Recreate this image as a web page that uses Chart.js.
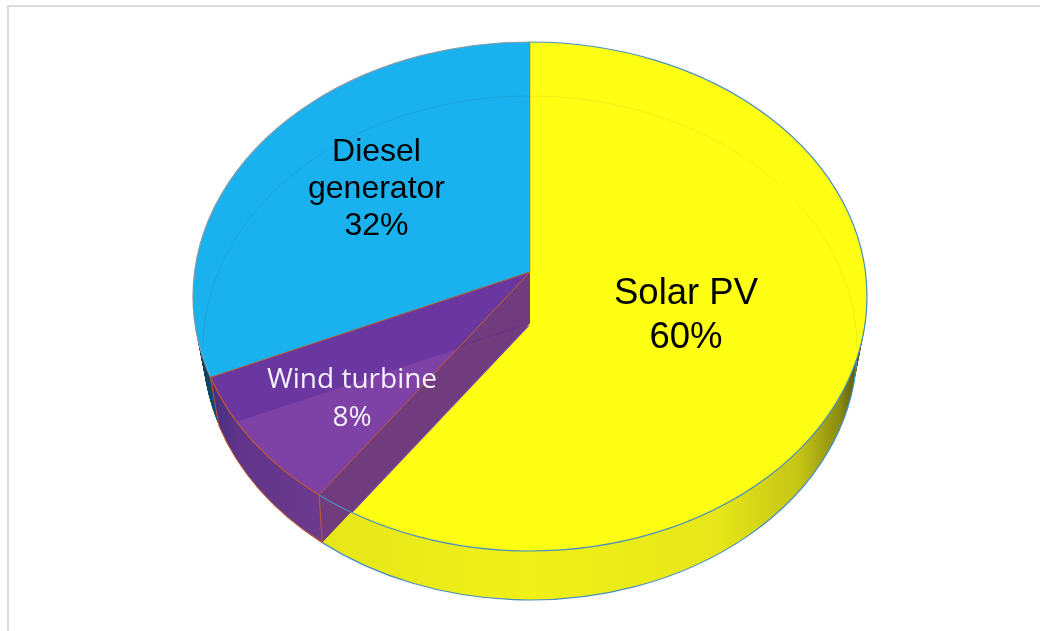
<!DOCTYPE html>
<html>
<head>
<meta charset="utf-8">
<style>
  html, body { margin: 0; background: #fff; overflow: hidden; }
  #frame { position: absolute; left: 7px; top: 5px; right: 0; bottom: 0; border-top: 2px solid #dcdcdc; border-left: 2px solid #dcdcdc; }
  canvas { position: absolute; left: 0; top: 0; filter: blur(0.4px); }
</style>
</head>
<body>
<div id="frame"></div>
<canvas id="pie" width="1040" height="631"></canvas>
<script src="https://cdn.jsdelivr.net/npm/chart.js@4"></script>
<script>
// Energy mix, clockwise from 12 o'clock
const sources = ['Solar PV', 'Wind turbine', 'Diesel generator'];
const shares  = [60, 8, 32];
const labelLines = [['Solar PV'], ['Wind turbine'], ['Diesel', 'generator']];

const faceColors = ['#ffff14', '#6a37a0', '#1ab2ee'];
const WIND_LIGHT = '#7e41a6';
const WIND_BAND  = '#703c7e';
const rimColors  = ['#4a8fc0', '#c0592c', '#8a9aa5'];

// wall shading left -> right, [x, colour]
const wallStops = [
  [[326, '#e6e61a'], [530, '#f1f118'], [720, '#e6e61a'], [800, '#c4c416'], [840, '#8a8a10'], [860, '#4f4f08']],
  [[212, '#472d82'], [238, '#5f358a'], [326, '#6e3a8e']],
  [[198, '#0c3c58'], [220, '#14506e']],
];

// fake 3D: top face and base are two ellipses, the wedges fan out from an apex
const TOP  = { cx: 530, cy: 296.5, rx: 337, ry: 254.5, ax: 530, ay: 272 };
const BASE = { cx: 530, cy: 348,   rx: 327, ry: 252,   ax: 530, ay: 323 };
const SHEAR = 0.048, SQUASH = 0.803;
const WALL_STEPS = 60;

const layer = t => {
  const o = {};
  for (const k in TOP) o[k] = TOP[k] + (BASE[k] - TOP[k]) * t;
  return o;
};

// where the ray of a chart angle leaves the ellipse of a layer
function rimPoint(l, angle) {
  const d0 = Math.cos(angle), d1 = SHEAR * d0 + SQUASH * Math.sin(angle);
  const dx = l.ax - l.cx, dy = l.ay - l.cy;
  const a = d0 * d0 / (l.rx * l.rx) + d1 * d1 / (l.ry * l.ry);
  const b = 2 * (dx * d0 / (l.rx * l.rx) + dy * d1 / (l.ry * l.ry));
  const c = dx * dx / (l.rx * l.rx) + dy * dy / (l.ry * l.ry) - 1;
  const s = (-b + Math.sqrt(b * b - 4 * a * c)) / (2 * a);
  const x = l.ax + s * d0, y = l.ay + s * d1;
  return { x, y, param: Math.atan2((y - l.cy) / l.ry, (x - l.cx) / l.rx) };
}

function drawWedge(ctx, arc, l, fill, clipTo) {
  const saved = arc.options;
  const opts = Object.create(saved);
  opts.backgroundColor = fill;
  opts.borderWidth = 0;
  arc.options = opts;
  ctx.save();
  ctx.beginPath();
  ctx.ellipse(clipTo.cx, clipTo.cy, clipTo.rx, clipTo.ry, 0, 0, Math.PI * 2);
  ctx.clip();
  ctx.transform(1, SHEAR, 0, SQUASH, l.ax, l.ay);
  ctx.translate(-arc.x, -arc.y);
  arc.draw(ctx);
  ctx.restore();
  arc.options = saved;
}

function strokeRim(ctx, l, from, to, color, width) {
  ctx.beginPath();
  ctx.ellipse(l.cx, l.cy, l.rx, l.ry, 0, from, to);
  ctx.strokeStyle = color;
  ctx.lineWidth = width;
  ctx.stroke();
}

function strokeLine(ctx, a, b, color) {
  ctx.beginPath();
  ctx.moveTo(a.x, a.y);
  ctx.lineTo(b.x, b.y);
  ctx.strokeStyle = color;
  ctx.lineWidth = 1;
  ctx.stroke();
}

const pie3d = {
  id: 'pie3d',
  beforeDatasetsDraw(chart) {
    const ctx = chart.ctx;
    const arcs = chart.getDatasetMeta(0).data;
    const [solar, wind, diesel] = arcs;
    const base = layer(1);

    const wallFills = wallStops.map(stops => {
      const x0 = stops[0][0], x1 = stops[stops.length - 1][0];
      const g = ctx.createLinearGradient(x0, 0, x1, 0);
      stops.forEach(s => g.addColorStop((s[0] - x0) / (x1 - x0), s[1]));
      return g;
    });

    // side wall, painted from the base upwards
    for (let i = WALL_STEPS; i > 0; i--) {
      const l = layer(i / WALL_STEPS);
      arcs.forEach((arc, j) => drawWedge(ctx, arc, l, wallFills[j], l));
    }

    // top faces; the lighter part of wind is where its floor shows through
    drawWedge(ctx, solar, TOP, faceColors[0], TOP);
    drawWedge(ctx, diesel, TOP, faceColors[2], TOP);
    drawWedge(ctx, wind, TOP, faceColors[1], TOP);
    drawWedge(ctx, wind, { ...base, ay: base.ay + 2 }, WIND_LIGHT, TOP);

    // wall between wind and solar seen through the glass
    const topA = { x: TOP.ax, y: TOP.ay }, baseA = { x: BASE.ax, y: BASE.ay };
    const topRim = rimPoint(TOP, wind.startAngle);
    const baseRim = rimPoint(BASE, wind.startAngle);
    const windEndTop = rimPoint(TOP, wind.endAngle), windEndBase = rimPoint(BASE, wind.endAngle);
    ctx.save();
    ctx.beginPath();
    ctx.moveTo(topA.x, topA.y);
    ctx.lineTo(topRim.x, topRim.y);
    ctx.lineTo(baseRim.x, baseRim.y);
    ctx.lineTo(baseA.x, baseA.y);
    ctx.closePath();
    ctx.fillStyle = WIND_BAND;
    ctx.fill();
    ctx.clip();
    strokeLine(ctx, baseA, windEndBase, 'rgba(100,45,140,0.7)');
    ctx.restore();

    // faint back edge of the base
    strokeRim(ctx, base, Math.PI, Math.PI * 2, 'rgba(0,0,0,0.07)', 1);

    // rims
    arcs.forEach((arc, j) => {
      const p0 = rimPoint(TOP, arc.startAngle).param, p1 = rimPoint(TOP, arc.endAngle).param;
      strokeRim(ctx, TOP, p0, p1, rimColors[j], 1.2);
    });
    strokeRim(ctx, BASE, 0.05, baseRim.param, rimColors[0], 1.2);
    strokeRim(ctx, BASE, baseRim.param, windEndBase.param, rimColors[1], 1.2);

    // edges of the wedges
    strokeLine(ctx, topA, topRim, rimColors[1]);
    strokeLine(ctx, topA, windEndTop, rimColors[1]);
    strokeLine(ctx, topA, { x: TOP.ax, y: TOP.cy - TOP.ry }, 'rgba(110,120,90,0.5)');
    strokeLine(ctx, topRim, baseRim, rimColors[1]);
    strokeLine(ctx, windEndTop, windEndBase, rimColors[1]);

    return false;
  },
  afterDraw(chart) {
    const ctx = chart.ctx;
    const styles = [
      { font: '36.5px "Liberation Sans"', color: '#000', x: 686, y: 304, gap: 44 },
      { font: '28px "Open Sans"', color: '#f5f0fa', x: 352, y: 388, gap: 38 },
      { font: '32px "Liberation Sans"', color: '#000', x: 376.5, y: 161, gap: 37 },
    ];
    ctx.textAlign = 'center';
    labelLines.forEach((lines, i) => {
      const s = styles[i];
      ctx.font = s.font;
      ctx.fillStyle = s.color;
      [...lines, shares[i] + '%'].forEach((text, k) => ctx.fillText(text, s.x, s.y + k * s.gap));
    });
  },
};

new Chart(document.getElementById('pie'), {
  type: 'pie',
  data: {
    labels: sources,
    datasets: [{ data: shares, backgroundColor: faceColors, borderWidth: 0 }],
  },
  options: {
    responsive: false,
    animation: false,
    radius: 420,
    layout: { padding: { left: 20 } },
    plugins: { legend: { display: false }, tooltip: { enabled: false } },
  },
  plugins: [pie3d],
});
</script>
</body>
</html>
